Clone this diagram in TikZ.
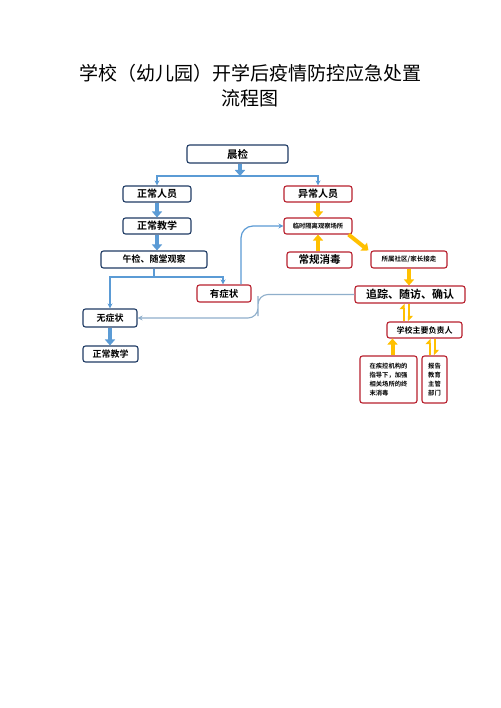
\documentclass[tikz,border=0pt]{standalone}
\usepackage{fontspec}
\newfontfamily\cjk{Noto Sans CJK SC}[BoldFont={Noto Sans CJK SC Bold}]
\usetikzlibrary{arrows.meta,calc}
\definecolor{navy}{HTML}{1F3B64}
\definecolor{boxred}{HTML}{B8202E}
\definecolor{arrblue}{HTML}{5B9BD5}
\definecolor{lineblue}{HTML}{8FAFCB}
\definecolor{arryel}{HTML}{FFC000}
\tikzset{
  bbox/.style={draw=navy,line width=1.1pt,rounded corners=2.5pt,fill=white,inner sep=0pt,font=\cjk\bfseries},
  rbox/.style={draw=boxred,line width=1.1pt,rounded corners=2.5pt,fill=white,inner sep=0pt,font=\cjk\bfseries},
  bigblue/.style={draw=arrblue,line width=4pt,-{Triangle[length=6pt,width=10pt]}},
  thinblue/.style={draw=arrblue,line width=1.2pt,-{Stealth[length=5pt,width=5pt]}},
  lightline/.style={draw=lineblue,line width=1.1pt,-{Stealth[length=5pt,width=5pt]}},
  bigyel/.style={draw=arryel,line width=4pt,-{Triangle[length=6pt,width=10pt]}},
  harpyel/.style={draw=arryel,line width=2pt,-{Triangle[harpoon,length=5pt,width=9pt]}},
}
\begin{document}
\begin{tikzpicture}[x=1pt,y=-1pt]
\fill[white] (0,0) rectangle (500,708);
\useasboundingbox (0,0) rectangle (500,708);
\node[font=\cjk\fontsize{19}{19}\selectfont] (t1) at (250,73) {学校（幼儿园）开学后疫情防控应急处置};
\node[font=\cjk\fontsize{19}{19}\selectfont] (t2) at (250,98) {流程图};

\node[bbox,minimum width=101pt,minimum height=18pt,font=\cjk\bfseries\fontsize{10.5}{11}\selectfont] (cj) at (237.5,154) {晨检};
\node[bbox,minimum width=68pt,minimum height=16pt,font=\cjk\bfseries\fontsize{10}{11}\selectfont] (zcry) at (157,194) {正常人员};
\node[bbox,minimum width=68pt,minimum height=16pt,font=\cjk\bfseries\fontsize{10}{11}\selectfont] (zcjx) at (157,226) {正常教学};
\node[bbox,minimum width=106pt,minimum height=17pt,font=\cjk\bfseries\fontsize{9}{10}\selectfont] (wj) at (154,259.5) {午检、随堂观察};
\node[rbox,minimum width=68pt,minimum height=16pt,font=\cjk\bfseries\fontsize{10}{11}\selectfont] (ycry) at (318,194) {异常人员};
\node[rbox,minimum width=68pt,minimum height=16pt,font=\cjk\bfseries\fontsize{6.3}{7}\selectfont] (lsgl) at (318,226) {临时隔离观察场所};
\node[rbox,minimum width=65pt,minimum height=16pt,font=\cjk\bfseries\fontsize{10.5}{12}\selectfont] (cgxd) at (319.5,260) {常规消毒};
\node[rbox,minimum width=76pt,minimum height=17pt,font=\cjk\bfseries\fontsize{6.5}{7}\selectfont] (sssq) at (409,259.5) {所属社区/家长接走};
\node[rbox,minimum width=110pt,minimum height=17pt,font=\cjk\bfseries\fontsize{11}{12}\selectfont] (zz) at (410,294.5) {追踪、随访、确认};
\node[rbox,minimum width=75pt,minimum height=16pt,font=\cjk\bfseries\fontsize{8}{9}\selectfont] (xx) at (424.5,330) {学校主要负责人};
\node[rbox,minimum width=57pt,minimum height=47pt,font=\cjk\bfseries\fontsize{6.3}{9}\selectfont,align=left] (jk) at (388.5,379.5) {在疾控机构的\\指导下，加强\\相关场所的终\\末消毒};
\node[rbox,minimum width=25pt,minimum height=47pt,font=\cjk\bfseries\fontsize{6.3}{9}\selectfont,align=center] (bg) at (434.5,379.5) {报告\\教育\\主管\\部门};
\node[rbox,minimum width=54pt,minimum height=17pt,font=\cjk\bfseries\fontsize{9.5}{10}\selectfont] (yzz) at (224,293.5) {有症状};
\node[bbox,minimum width=54pt,minimum height=18pt,font=\cjk\bfseries\fontsize{9}{10}\selectfont] (wzz) at (110,318) {无症状};
\node[bbox,minimum width=55pt,minimum height=16pt,font=\cjk\bfseries\fontsize{9}{10}\selectfont] (zcjx2) at (110.5,354) {正常教学};

% morning check branches
\coordinate (brM) at (240,176);
\draw[bigblue] ([xshift=2.5pt]cj.south) -- (brM);
\draw[thinblue] (brM) -| (zcry.north);
\draw[thinblue] (brM) -| (ycry.north);
\draw[bigblue] (zcry.south) -- (zcjx.north);
\draw[bigblue] (zcjx.south) -- (zcjx.south |- wj.north);
% noon check branches
\coordinate (brN) at (154,277);
\draw[draw=arrblue,line width=1.2pt] (wj.south) -- (brN);
\draw[thinblue] (brN) -| (wzz.north);
\draw[thinblue] (brN) -| ([xshift=-1pt]yzz.north);
\draw[bigblue] (wzz.south) -- (wzz.south |- zcjx2.north);
% symptomatic to isolation
\draw[thinblue,rounded corners=12pt] ([xshift=17pt]yzz.north) |- (lsgl.west);
% tracking back to no symptoms
\coordinate (turn) at (258,306);
\draw[lightline,rounded corners=10pt] (zz.west) -| (turn) |- (wzz.east);
% yellow arrows
\draw[bigyel] (ycry.south) -- (lsgl.north);
\draw[bigyel] (cgxd.north -| lsgl) -- (lsgl.south);
\draw[bigyel] ([xshift=-4pt]lsgl.south east) -- ([xshift=-2pt]sssq.north west);
\draw[bigyel] (sssq.south) -- (sssq.south |- zz.north);
\draw[bigyel] ([xshift=4pt]jk.north) -- ([xshift=4pt]jk.north |- xx.south);
% double harpoons
\draw[harpyel] ([xshift=-6pt]zz.south |- xx.north) -- ([xshift=-6pt]zz.south);
\draw[harpyel] ([xshift=-1.5pt]zz.south) -- ([xshift=-1.5pt]zz.south |- xx.north);
\draw[harpyel] ([xshift=-4.5pt]bg.north) -- ([xshift=-4.5pt]bg.north |- xx.south);
\draw[harpyel] ([xshift=0pt]bg.north |- xx.south) -- ([xshift=0pt]bg.north);
\end{tikzpicture}
\end{document}
